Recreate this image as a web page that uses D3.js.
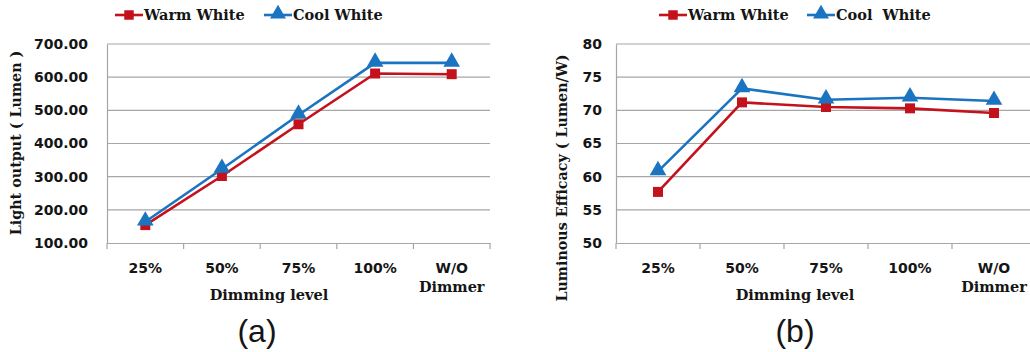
<!DOCTYPE html>
<html><head><meta charset="utf-8">
<script src="https://cdn.jsdelivr.net/npm/d3@7"></script>
<style>body{margin:0;background:#fff}svg{display:block}</style>
</head><body>
<script>
const categories = ["25%", "50%", "75%", "100%", "W/O Dimmer"];
const seriesNames = ["Warm White", "Cool White"];
const lightWarm = [154, 302, 458, 611, 609];
const lightCool = [164, 323, 486, 643, 643];
const effWarm = [57.7, 71.2, 70.5, 70.3, 69.6];
const effCool = [60.8, 73.3, 71.6, 71.9, 71.4];
const lightTicks = [100, 200, 300, 400, 500, 600, 700];
const effTicks = [50, 55, 60, 65, 70, 75, 80];

const W = 1030, H = 352;
const svg = d3.select("body").append("svg").attr("width", W).attr("height", H);
const RED = "#c4121c", BLUE = "#1b74bf", GRID = "#a6a6a6";
const SERIF = "DejaVu Serif", SANS = "DejaVu Sans";
const INK = "#151515";

function panel(cfg) {
  const g = svg.append("g");
  const x = d3.scaleBand().domain(categories).range([cfg.x0, cfg.x1]);
  const y = d3.scaleLinear().domain(cfg.domain).range([243, 44]);
  g.selectAll("line.grid").data(cfg.ticks.slice(1)).join("line")
    .attr("x1", cfg.x0).attr("x2", cfg.x1).attr("y1", d => y(d)).attr("y2", d => y(d))
    .attr("stroke", GRID).attr("stroke-width", 1.2);
  const ya = g.append("g").attr("transform", `translate(${cfg.x0},0)`)
    .call(d3.axisLeft(y).tickValues(cfg.ticks).tickSize(0).tickPadding(cfg.pad).tickFormat(cfg.fmt));
  ya.select(".domain").attr("stroke", GRID).attr("stroke-width", 1.2);
  ya.selectAll("text").attr("font-family", SANS).attr("font-weight", "bold").attr("font-size", 14).attr("fill", INK);
  const xa = g.append("g").attr("transform", "translate(0,243)")
    .call(d3.axisBottom(x).tickSize(0).tickFormat(""));
  xa.select(".domain").attr("stroke", GRID).attr("stroke-width", 1.2);
  const edges = categories.map(c => x(c)).concat([x(categories[categories.length-1]) + x.bandwidth()]);
  g.selectAll("line.xt").data(edges).join("line")
    .attr("x1", d => d).attr("x2", d => d).attr("y1", 243).attr("y2", 249)
    .attr("stroke", GRID).attr("stroke-width", 1.2);
  categories.forEach(c => {
    const parts = c === "W/O Dimmer" ? ["W/O", "Dimmer"] : [c];
    parts.forEach((p, i) => {
      g.append("text").attr("x", x(c) + x.bandwidth()/2).attr("y", 273 + i*19)
        .attr("text-anchor", "middle").attr("font-family", i === 1 ? SERIF : SANS).attr("font-weight", "bold")
        .attr("font-size", i === 1 ? 14.5 : 14).attr("fill", INK).text(p);
    });
  });
  g.append("text").attr("x", cfg.xTitleX).attr("y", 300).attr("text-anchor", "middle")
    .attr("font-family", SERIF).attr("font-weight", "bold").attr("font-size", 14.6).attr("fill", INK)
    .text("Dimming level");
  g.append("text").attr("transform", `translate(${cfg.yTitleX},${cfg.yTitleY}) rotate(-90)`)
    .attr("text-anchor", "middle").attr("font-family", SERIF).attr("font-weight", "bold")
    .attr("font-size", 14.3).attr("fill", INK).text(cfg.yTitle);
  g.append("text").attr("x", cfg.labelX).attr("y", 342).attr("text-anchor", "middle")
    .attr("font-family", "Liberation Sans").attr("font-size", 32).attr("fill", INK).text(cfg.label);
  const line = d3.line().x((d, i) => x(categories[i]) + x.bandwidth()/2).y(d => y(d));
  const series = [{v: cfg.warm, c: RED, m: "square"}, {v: cfg.cool, c: BLUE, m: "triangle"}];
  series.forEach(s => {
    g.append("path").attr("d", line(s.v)).attr("fill", "none").attr("stroke", s.c).attr("stroke-width", 2.6);
    const sym = s.m === "square" ? d3.symbol(d3.symbolSquare, 100) : d3.symbol(d3.symbolTriangle, 120);
    g.selectAll(null).data(s.v).join("path")
      .attr("transform", (d, i) => `translate(${x(categories[i]) + x.bandwidth()/2},${y(d) + (s.m === "triangle" ? -1 : 0)})`)
      .attr("d", sym).attr("fill", s.c);
  });
  cfg.legend.forEach((L, i) => {
    const s = series[i];
    g.append("line").attr("x1", L.lx).attr("x2", L.lx + 28).attr("y1", 15).attr("y2", 15)
      .attr("stroke", s.c).attr("stroke-width", 2.6);
    const sym = s.m === "square" ? d3.symbol(d3.symbolSquare, 90) : d3.symbol(d3.symbolTriangle, 110);
    g.append("path").attr("transform", `translate(${L.lx + 14},${15 + (s.m === "triangle" ? -1 : 0)})`)
      .attr("d", sym).attr("fill", s.c);
    g.append("text").attr("x", L.lx + 29).attr("y", 20).attr("font-family", SERIF)
      .attr("font-weight", "bold").attr("font-size", 14.5).attr("fill", INK)
      .style("white-space", "pre").text(L.text);
  });
}

panel({
  x0: 107, x1: 490, domain: [100, 700], ticks: lightTicks, pad: 19,
  fmt: d3.format(".2f"), warm: lightWarm, cool: lightCool,
  yTitle: "Light output ( Lumen )", yTitleX: 21, yTitleY: 143,
  xTitleX: 269, label: "(a)", labelX: 257,
  legend: [{lx: 115, text: seriesNames[0]}, {lx: 264, text: seriesNames[1]}]
});
panel({
  x0: 616, x1: 1036, domain: [50, 80], ticks: effTicks, pad: 14,
  fmt: d3.format("d"), warm: effWarm, cool: effCool,
  yTitle: "Luminous Efficacy ( Lumen/W)", yTitleX: 567, yTitleY: 178,
  xTitleX: 795, label: "(b)", labelX: 795,
  legend: [{lx: 659, text: seriesNames[0]}, {lx: 807, text: "Cool  White"}]
});
</script>
</body></html>
